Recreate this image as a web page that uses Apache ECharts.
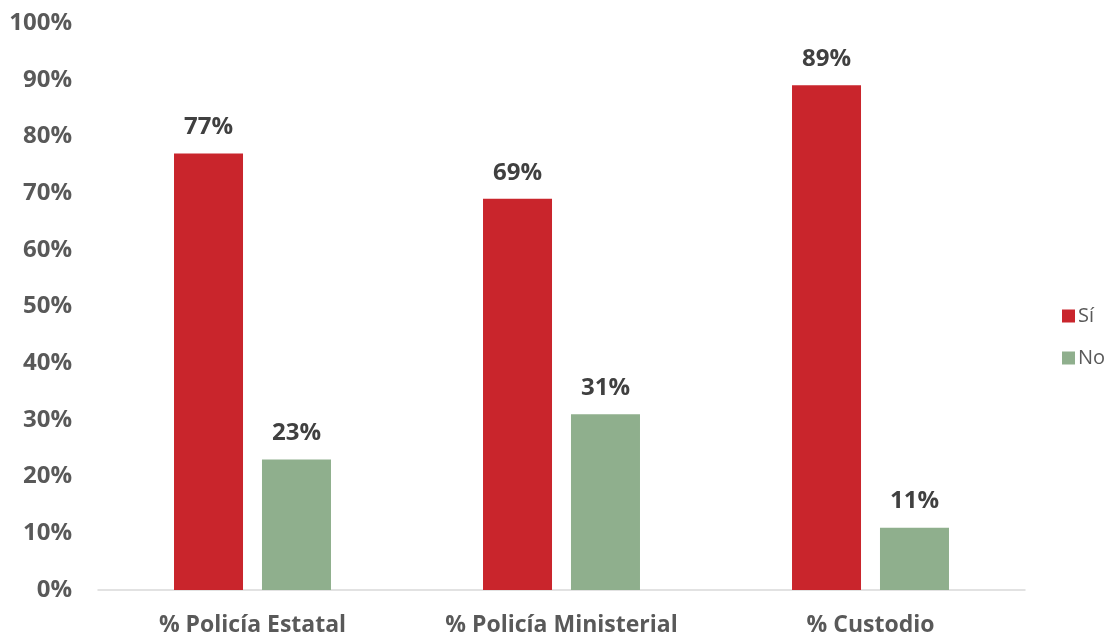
<!DOCTYPE html>
<html><head><meta charset="utf-8">
<script src="https://cdn.jsdelivr.net/npm/echarts@6/dist/echarts.min.js"></script>
<style>html,body{margin:0;padding:0;background:#fff}#c{width:1107px;height:637px}</style>
</head><body><div id="c"></div>
<script>
const categories = ['% Policía Estatal', '% Policía Ministerial', '% Custodio'];
const siValues = [77, 69, 89];
const noValues = [23, 31, 11];
const yTicks = [0, 10, 20, 30, 40, 50, 60, 70, 80, 90, 100];

const font = '"Open Sans", "Liberation Sans", sans-serif';
const chart = echarts.init(document.getElementById('c'));
const lbl = {show: true, position: 'top', distance: 14, formatter: p => p.value + '%', fontFamily: font, fontWeight: 'bold', fontSize: 24, color: '#404040'};
chart.setOption({
  animation: false,
  grid: {left: 98, right: 82, top: 23, bottom: 47, containLabel: false},
  legend: {orient: 'vertical', left: 1057, top: 301, itemWidth: 13, itemHeight: 13, itemGap: 22, icon: 'rect',
    textStyle: {fontFamily: font, fontSize: 20, color: '#595959', padding: [0, 0, 0, -2]}, data: ['Sí', 'No']},
  xAxis: {type: 'category', data: categories,
    axisLine: {lineStyle: {color: '#d9d9d9', width: 1.5}}, axisTick: {show: false},
    axisLabel: {fontFamily: font, fontWeight: 'bold', fontSize: 23, color: '#595959', margin: 24}},
  yAxis: {type: 'value', min: 0, max: 100, interval: 10,
    axisLine: {show: false}, axisTick: {show: false}, splitLine: {show: false},
    axisLabel: {formatter: v => yTicks.includes(v) ? v + '%' : '', fontFamily: font, fontWeight: 'bold', fontSize: 24, color: '#595959', margin: 26}},
  series: [
    {name: 'Sí', type: 'bar', data: siValues, barWidth: 69, barGap: '27.5%', itemStyle: {color: '#C9252C'}, label: lbl},
    {name: 'No', type: 'bar', data: noValues, barWidth: 69, itemStyle: {color: '#8FAF8D'}, label: lbl}
  ]
});
</script></body></html>
